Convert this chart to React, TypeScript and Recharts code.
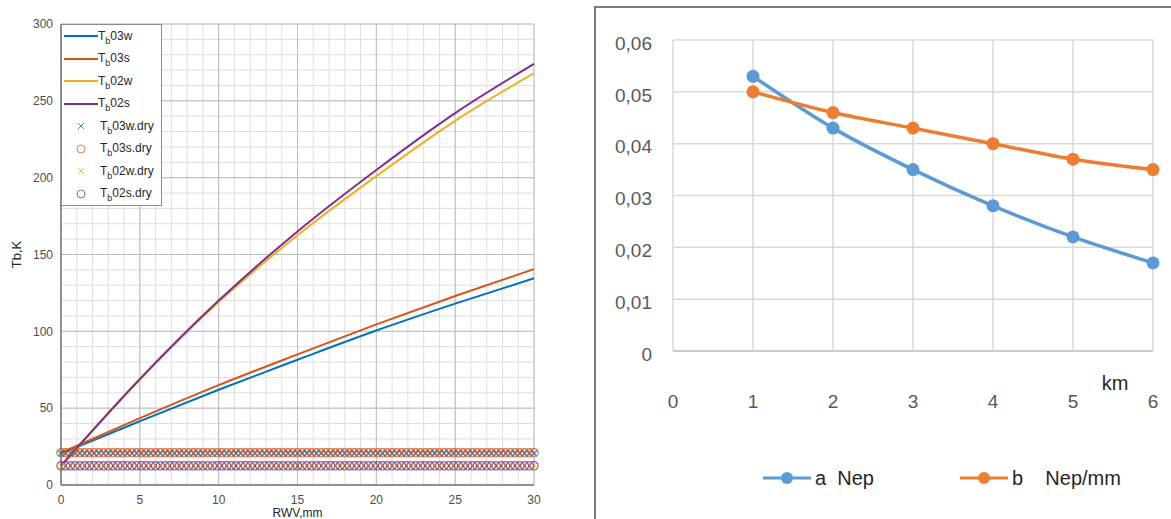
import React from 'react';
import {
  ComposedChart,
  LineChart,
  Line,
  Scatter,
  XAxis,
  YAxis,
  CartesianGrid,
  ReferenceLine,
  Legend,
  Label,
} from 'recharts';

// ---------- Left chart data ----------
const rwv = [0, 5, 10, 15, 20, 25, 30];
const tb03w = [20.5, 41.5, 62, 81.5, 100.5, 118, 134.5];
const tb03s = [21, 43.5, 65, 85, 104.5, 123, 140.5];
const tb02w = [12.5, 68.5, 119, 162.5, 201, 237, 268];
const tb02s = [12.5, 69, 120, 165, 205, 242, 274];

const dryX = [
  0, 0.3, 0.6, 0.9, 1.2, 1.5, 1.8, 2.1, 2.4, 2.7,
  3, 3.3, 3.6, 3.9, 4.2, 4.5, 4.8, 5.1, 5.4, 5.7,
  6, 6.3, 6.6, 6.9, 7.2, 7.5, 7.8, 8.1, 8.4, 8.7,
  9, 9.3, 9.6, 9.9, 10.2, 10.5, 10.8, 11.1, 11.4, 11.7,
  12, 12.3, 12.6, 12.9, 13.2, 13.5, 13.8, 14.1, 14.4, 14.7,
  15, 15.3, 15.6, 15.9, 16.2, 16.5, 16.8, 17.1, 17.4, 17.7,
  18, 18.3, 18.6, 18.9, 19.2, 19.5, 19.8, 20.1, 20.4, 20.7,
  21, 21.3, 21.6, 21.9, 22.2, 22.5, 22.8, 23.1, 23.4, 23.7,
  24, 24.3, 24.6, 24.9, 25.2, 25.5, 25.8, 26.1, 26.4, 26.7,
  27, 27.3, 27.6, 27.9, 28.2, 28.5, 28.8, 29.1, 29.4, 29.7, 30,
];
const dry03w = 20.5;
const dry03s = 21;
const dry02w = 12.5;
const dry02s = 12.5;

const xGridTicks = [
  0, 1, 2, 3, 4, 5, 6, 7, 8, 9, 10, 11, 12, 13, 14, 15,
  16, 17, 18, 19, 20, 21, 22, 23, 24, 25, 26, 27, 28, 29, 30,
];
const yGridTicks = [
  0, 10, 20, 30, 40, 50, 60, 70, 80, 90, 100, 110, 120, 130, 140, 150,
  160, 170, 180, 190, 200, 210, 220, 230, 240, 250, 260, 270, 280, 290, 300,
];
const xLabelTicks = [0, 5, 10, 15, 20, 25, 30];
const yLabelTicks = [0, 50, 100, 150, 200, 250, 300];

const lineSeries = [
  { key: 'tb03w', suffix: '03w', color: '#0072BD', values: tb03w },
  { key: 'tb03s', suffix: '03s', color: '#D95319', values: tb03s },
  { key: 'tb02w', suffix: '02w', color: '#EDB120', values: tb02w },
  { key: 'tb02s', suffix: '02s', color: '#7E2F8E', values: tb02s },
];
const drySeries = [
  { key: 'd03w', suffix: '03w.dry', color: '#0072BD', level: dry03w, marker: 'x' },
  { key: 'd03s', suffix: '03s.dry', color: '#D95319', level: dry03s, marker: 'o' },
  { key: 'd02w', suffix: '02w.dry', color: '#EDB120', level: dry02w, marker: 'x' },
  { key: 'd02s', suffix: '02s.dry', color: '#7E2F8E', level: dry02s, marker: 'o' },
];

const leftData = rwv.map((x, i) => {
  const row: any = { x };
  lineSeries.forEach((s) => {
    row[s.key] = s.values[i];
  });
  return row;
});

// ---------- Right chart data ----------
const km = [1, 2, 3, 4, 5, 6];
const aNep = [0.053, 0.043, 0.035, 0.028, 0.022, 0.017];
const bNepMm = [0.05, 0.046, 0.043, 0.04, 0.037, 0.035];
const rightXTicks = [0, 1, 2, 3, 4, 5, 6];
const rightYTicks = [0, 0.01, 0.02, 0.03, 0.04, 0.05, 0.06];
const rightSeries = [
  { key: 'a', name: 'a  Nep', color: '#5B9BD5', values: aNep },
  { key: 'b', name: 'b    Nep/mm', color: '#ED7D31', values: bNepMm },
];
const rightData = km.map((k, i) => {
  const row: any = { km: k };
  rightSeries.forEach((s) => {
    row[s.key] = s.values[i];
  });
  return row;
});

const FONT = '"Liberation Sans", Arial, sans-serif';

const CircleShape = (color: string) => (p: any) => (
  <circle cx={p.cx} cy={p.cy} r={4.2} fill="none" stroke={color} strokeWidth={1.2} strokeOpacity={0.8} />
);
const CrossShape = (color: string) => (p: any) => (
  <g stroke={color} strokeWidth={1.1} strokeOpacity={0.85}>
    <line x1={p.cx - 3} y1={p.cy - 3} x2={p.cx + 3} y2={p.cy + 3} />
    <line x1={p.cx - 3} y1={p.cy + 3} x2={p.cx + 3} y2={p.cy - 3} />
  </g>
);

const Sub = () => (
  <span style={{ fontSize: 9, position: 'relative', top: 4 }}>b</span>
);

const LeftLegend = () => (
  <div
    style={{
      width: 101,
      height: 182,
      border: '1px solid #8c8c8c',
      background: '#ffffff',
      boxSizing: 'border-box',
      fontFamily: FONT,
      fontSize: 12,
      color: '#262626',
    }}
  >
    {lineSeries.map((s) => (
      <div key={s.key} style={{ height: 22.5, display: 'flex', alignItems: 'center' }}>
        <svg width={36} height={10} style={{ display: 'block' }}>
          <line x1={2} x2={36} y1={5} y2={5} stroke={s.color} strokeWidth={2} />
        </svg>
        <span style={{ lineHeight: '12px' }}>
          T<Sub />{s.suffix}
        </span>
      </div>
    ))}
    {drySeries.map((s) => (
      <div key={s.key} style={{ height: 22.5, display: 'flex', alignItems: 'center' }}>
        <svg width={38} height={12} style={{ display: 'block' }}>
          {s.marker === 'o' ? (
            <circle cx={19} cy={6} r={4} fill="none" stroke={s.color} strokeWidth={1} strokeOpacity={0.75} />
          ) : (
            <g stroke={s.color} strokeWidth={1} strokeOpacity={0.8}>
              <line x1={16} y1={3} x2={22} y2={9} />
              <line x1={16} y1={9} x2={22} y2={3} />
            </g>
          )}
        </svg>
        <span style={{ lineHeight: '12px' }}>
          T<Sub />{s.suffix}
        </span>
      </div>
    ))}
  </div>
);

const RightLegend = () => (
  <div style={{ position: 'relative', width: 400, height: 32, fontFamily: FONT, fontSize: 20, color: '#262626' }}>
    {rightSeries.map((s, i) => (
      <div
        key={s.key}
        style={{ position: 'absolute', left: i === 0 ? 0 : 197, top: 0, height: 32, display: 'flex', alignItems: 'center' }}
      >
        <svg width={48} height={16} style={{ display: 'block' }}>
          <line x1={0} x2={48} y1={8} y2={8} stroke={s.color} strokeWidth={3} />
          <circle cx={24} cy={8} r={6} fill={s.color} />
        </svg>
        <span style={{ whiteSpace: 'pre', marginLeft: 4 }}>{s.name}</span>
      </div>
    ))}
  </div>
);

const leftYLabel = () => (
  <text
    x={16}
    y={254.5}
    transform="rotate(-90 16 254.5)"
    textAnchor="middle"
    dominantBaseline="central"
    fontSize={13}
    fill="#262626"
    fontFamily={FONT}
  >
    Tb,K
  </text>
);
const leftXLabel = () => (
  <text x={297.5} y={517} textAnchor="middle" fontSize={12} fill="#262626" fontFamily={FONT}>
    RWV,mm
  </text>
);
const kmLabel = () => (
  <text x={519} y={383} textAnchor="middle" fontSize={20} fill="#262626" fontFamily={FONT}>
    km
  </text>
);

export default function App() {
  return (
    <div
      style={{
        position: 'absolute',
        left: 0,
        top: 0,
        width: 1171,
        height: 519,
        overflow: 'hidden',
        background: '#ffffff',
      }}
    >
      {/* Left chart */}
      <div style={{ position: 'absolute', left: 0, top: 0 }}>
        <ComposedChart
          width={580}
          height={519}
          data={leftData}
          margin={{ top: 24, right: 46, bottom: 0, left: 0 }}
        >
          <CartesianGrid stroke="#dedede" strokeWidth={1} />
          {xLabelTicks.map((v) => (
            <ReferenceLine key={'vx' + v} x={v} stroke="#bdbdbd" strokeWidth={1} />
          ))}
          {yLabelTicks.map((v) => (
            <ReferenceLine key={'hy' + v} y={v} stroke="#bdbdbd" strokeWidth={1} />
          ))}
          <XAxis
            dataKey="x"
            type="number"
            domain={[0, 30]}
            ticks={xGridTicks}
            interval={0}
            tickFormatter={(v: number) => (xLabelTicks.includes(v) ? String(v) : '')}
            height={34}
            tickLine={false}
            tickSize={6}
            tickMargin={4}
            axisLine={{ stroke: '#4d4d4d' }}
            tick={{ fontSize: 12, fill: '#4d4d4d', fontFamily: FONT }}
          >
            <Label content={leftXLabel} />
          </XAxis>
          <YAxis
            type="number"
            domain={[0, 300]}
            ticks={yGridTicks}
            interval={0}
            tickFormatter={(v: number) => (yLabelTicks.includes(v) ? String(v) : '')}
            width={61}
            tickLine={false}
            tickSize={6}
            tickMargin={2}
            axisLine={{ stroke: '#4d4d4d' }}
            tick={{ fontSize: 12, fill: '#4d4d4d', fontFamily: FONT }}
          >
            <Label content={leftYLabel} />
          </YAxis>
          {drySeries.map((s) => (
            <Scatter
              key={s.key}
              data={dryX.map((x) => ({ x, y: s.level }))}
              dataKey="y"
              isAnimationActive={false}
              shape={s.marker === 'o' ? CircleShape(s.color) : CrossShape(s.color)}
            />
          ))}
          {lineSeries.map((s) => (
            <Line
              key={s.key}
              dataKey={s.key}
              type="monotone"
              stroke={s.color}
              strokeWidth={2}
              dot={false}
              activeDot={false}
              isAnimationActive={false}
            />
          ))}
          <Legend
            layout="horizontal"
            verticalAlign="middle"
            align="center"
            content={LeftLegend}
            wrapperStyle={{ left: 61, top: 24, width: 101, height: 182 }}
          />
        </ComposedChart>
      </div>

      {/* Right panel borders */}
      <div style={{ position: 'absolute', left: 595, top: 6, width: 600, height: 2, background: '#7a7a7a' }} />
      <div style={{ position: 'absolute', left: 594, top: 6, width: 2, height: 520, background: '#7a7a7a' }} />

      {/* Right chart */}
      <div style={{ position: 'absolute', left: 596, top: 7 }}>
        <LineChart
          width={575}
          height={512}
          data={rightData}
          margin={{ top: 33, right: 18, bottom: 0, left: 0 }}
        >
          <CartesianGrid stroke="#d9d9d9" strokeWidth={1.5} />
          <XAxis
            dataKey="km"
            type="number"
            domain={[0, 6]}
            ticks={rightXTicks}
            interval={0}
            height={168}
            tickLine={false}
            tickSize={0}
            tickMargin={44}
            axisLine={{ stroke: '#c4c4c4', strokeWidth: 1.5 }}
            tick={{ fontSize: 19, fill: '#595959', fontFamily: FONT }}
          >
            <Label content={kmLabel} />
          </XAxis>
          <YAxis
            type="number"
            domain={[0, 0.06]}
            ticks={rightYTicks}
            interval={0}
            width={77}
            tickLine={false}
            tickSize={0}
            tickMargin={21}
            axisLine={false}
            tickFormatter={(v: number) => (v === 0 ? '0' : v.toFixed(2).replace('.', ','))}
            tick={{ fontSize: 19, fill: '#595959', fontFamily: FONT, dy: 3 }}
          />
          {rightSeries.map((s) => (
            <Line
              key={s.key}
              dataKey={s.key}
              name={s.name}
              type="monotone"
              stroke={s.color}
              strokeWidth={3.5}
              dot={{ r: 6.5, fill: s.color, stroke: s.color, strokeWidth: 0 }}
              activeDot={false}
              isAnimationActive={false}
            />
          ))}
          <Legend
            layout="horizontal"
            verticalAlign="middle"
            align="center"
            content={RightLegend}
            wrapperStyle={{ left: 167, top: 455, width: 400, height: 32 }}
          />
        </LineChart>
      </div>
    </div>
  );
}
